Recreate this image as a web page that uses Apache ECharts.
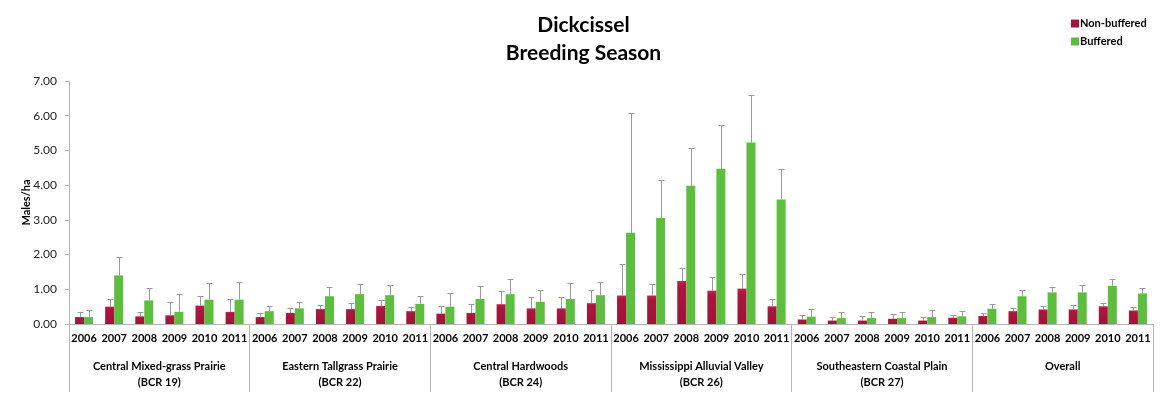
<!DOCTYPE html>
<html>
<head>
<meta charset="utf-8">
<script src="https://cdn.jsdelivr.net/npm/echarts@6/dist/echarts.min.js"></script>
<style>
html,body{margin:0;padding:0;background:#fff;}
#chart{width:1167px;height:395px;}
</style>
</head>
<body>
<div id="chart"></div>
<script>
const years = ['2006','2007','2008','2009','2010','2011'];
const regions = [
  'Central Mixed-grass Prairie\n(BCR 19)',
  'Eastern Tallgrass Prairie\n(BCR 22)',
  'Central Hardwoods\n(BCR 24)',
  'Mississippi Alluvial Valley\n(BCR 26)',
  'Southeastern Coastal Plain\n(BCR 27)',
  'Overall'
];
const yTicks = [0, 1, 2, 3, 4, 5, 6, 7];

const nonBuffered = [
  0.20, 0.50, 0.22, 0.25, 0.53, 0.35,
  0.20, 0.32, 0.43, 0.43, 0.52, 0.37,
  0.30, 0.32, 0.57, 0.45, 0.45, 0.60,
  0.82, 0.82, 1.24, 0.96, 1.02, 0.51,
  0.13, 0.10, 0.10, 0.15, 0.10, 0.18,
  0.23, 0.37, 0.42, 0.42, 0.51, 0.39
];
const nonBufferedErr = [
  0.15, 0.23, 0.13, 0.37, 0.29, 0.37,
  0.11, 0.13, 0.12, 0.17, 0.17, 0.11,
  0.22, 0.26, 0.37, 0.32, 0.32, 0.37,
  0.91, 0.33, 0.37, 0.38, 0.41, 0.20,
  0.12, 0.09, 0.12, 0.13, 0.09, 0.08,
  0.09, 0.08, 0.09, 0.12, 0.09, 0.09
];
const buffered = [
  0.20, 1.40, 0.68, 0.35, 0.70, 0.70,
  0.37, 0.45, 0.80, 0.86, 0.83, 0.58,
  0.50, 0.72, 0.86, 0.64, 0.72, 0.83,
  2.63, 3.05, 3.98, 4.47, 5.23, 3.59,
  0.21, 0.17, 0.17, 0.17, 0.20, 0.22,
  0.44, 0.80, 0.91, 0.91, 1.10, 0.88
];
const bufferedErr = [
  0.20, 0.52, 0.35, 0.50, 0.48, 0.52,
  0.15, 0.17, 0.27, 0.29, 0.29, 0.22,
  0.38, 0.37, 0.43, 0.33, 0.46, 0.38,
  3.45, 1.09, 1.08, 1.25, 1.37, 0.88,
  0.21, 0.17, 0.17, 0.19, 0.19, 0.16,
  0.13, 0.17, 0.15, 0.20, 0.19, 0.15
];

const FONT = 'Lato, "Open Sans", sans-serif';
const BAR_W = 9;
const yearCats = [];
regions.forEach(() => years.forEach(y => yearCats.push(y)));

function errSeries(name, vals, errs, offset) {
  return {
    name: name + ' err',
    type: 'custom',
    xAxisIndex: 0,
    z: 1,
    silent: true,
    data: vals.map((v, i) => [i, v, v + errs[i]]),
    renderItem: function (params, api) {
      const base = api.coord([api.value(0), api.value(1)]);
      const top = api.coord([api.value(0), api.value(2)]);
      const x = Math.round(base[0] + offset) + 0.5;
      const cap = 3;
      return {
        type: 'group',
        children: [
          { type: 'line', shape: { x1: x, y1: base[1], x2: x, y2: Math.round(top[1]) + 0.5 },
            style: { stroke: '#9a9a9a', lineWidth: 1 } },
          { type: 'line', shape: { x1: x - cap, y1: Math.round(top[1]) + 0.5, x2: x + cap, y2: Math.round(top[1]) + 0.5 },
            style: { stroke: '#9a9a9a', lineWidth: 1 } }
        ]
      };
    }
  };
}

const chart = echarts.init(document.getElementById('chart'));
chart.setOption({
  animation: false,
  backgroundColor: '#ffffff',
  title: {
    text: 'Dickcissel\nBreeding Season',
    left: 'center',
    top: 6,
    textStyle: { fontFamily: FONT, fontSize: 21, fontWeight: 'bold', color: '#000', lineHeight: 28 }
  },
  legend: {
    orient: 'vertical',
    left: 1066,
    top: 13,
    itemWidth: 8,
    itemHeight: 8,
    itemGap: 7,
    icon: 'rect',
    data: ['Non-buffered', 'Buffered'],
    textStyle: { fontFamily: FONT, fontSize: 11, fontWeight: 'bold', color: '#000', padding: [0, 0, 0, -4] }
  },
  grid: { left: 69, right: 14, top: 81, bottom: 71, containLabel: false },
  xAxis: [
    {
      type: 'category',
      data: yearCats,
      position: 'bottom',
      axisLine: { show: true, lineStyle: { color: '#b5b5b5', width: 1 } },
      axisTick: { show: false },
      axisLabel: { interval: 0, margin: 9, fontFamily: FONT, fontSize: 11, fontWeight: 'bold', color: '#000' },
      splitLine: { show: false }
    },
    {
      type: 'category',
      data: regions,
      position: 'bottom',
      axisLine: { show: false },
      axisTick: { show: true, length: 68, lineStyle: { color: '#b5b5b5', width: 1 } },
      axisLabel: { interval: 0, margin: 34, fontFamily: FONT, fontSize: 11, fontWeight: 'bold', color: '#000', lineHeight: 16 },
      splitLine: { show: false }
    }
  ],
  yAxis: {
    type: 'value',
    min: yTicks[0],
    max: yTicks[yTicks.length - 1],
    interval: 1,
    name: 'Males/ha',
    nameLocation: 'middle',
    nameRotate: 90,
    nameGap: 37,
    nameMoveOverlap: false,
    nameTextStyle: { fontFamily: FONT, fontSize: 11, fontWeight: 'bold', color: '#000' },
    axisLine: { show: true, lineStyle: { color: '#b5b5b5', width: 1 } },
    axisTick: { show: true, length: 4, lineStyle: { color: '#b5b5b5' } },
    axisLabel: { margin: 12, fontFamily: FONT, fontSize: 12, color: '#222', formatter: v => v.toFixed(2) },
    splitLine: { show: false }
  },
  series: [
    {
      name: 'Non-buffered',
      type: 'bar',
      xAxisIndex: 0,
      data: nonBuffered,
      barWidth: BAR_W,
      barGap: '0%',
      itemStyle: { color: new echarts.graphic.LinearGradient(0, 0, 0, 1, [
        { offset: 0, color: '#c0234f' }, { offset: 0.15, color: '#a8163e' }, { offset: 1, color: '#a01339' }]) }
    },
    {
      name: 'Buffered',
      type: 'bar',
      xAxisIndex: 0,
      data: buffered,
      barWidth: BAR_W,
      barGap: '0%',
      itemStyle: { color: '#5dbd3f' }
    },
    errSeries('Non-buffered', nonBuffered, nonBufferedErr, -BAR_W / 2),
    errSeries('Buffered', buffered, bufferedErr, BAR_W / 2)
  ]
});
</script>
</body>
</html>
